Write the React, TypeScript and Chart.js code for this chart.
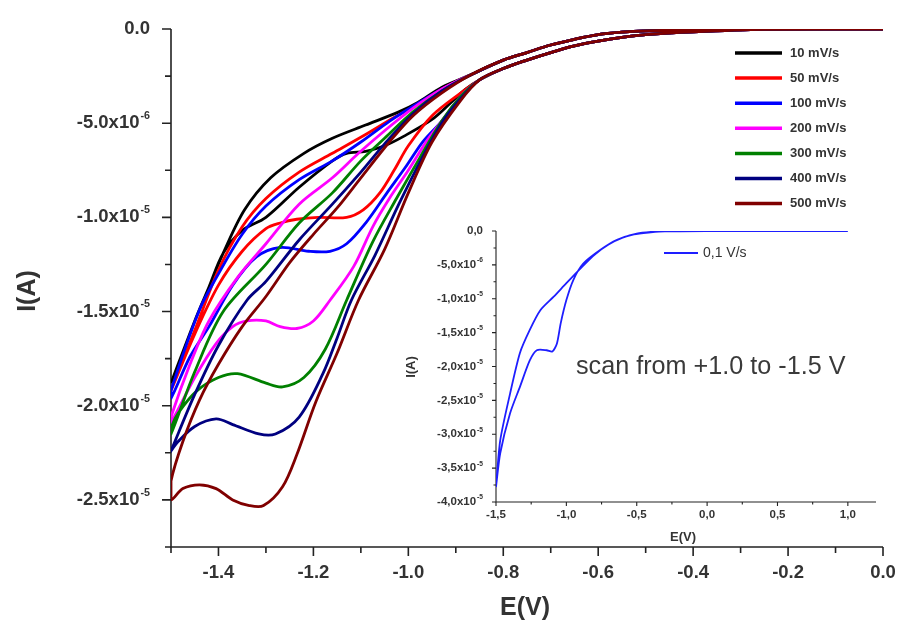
import React, { useEffect, useRef } from 'react';
import { Chart, registerables } from 'chart.js';

Chart.register(...registerables);

type P = [number, number];

// ---------- MAIN CHART DATA (E in V, I in units of 1e-6 A) ----------
const scanRates = ['10 mV/s', '50 mV/s', '100 mV/s', '200 mV/s', '300 mV/s', '400 mV/s', '500 mV/s'];
const seriesColors = ['#000000', '#ff0000', '#0000ff', '#ff00ff', '#008000', '#000080', '#800000'];

// common start of the cathodic sweep (0 V -> -0.85 V) and common end of the return sweep
const tailFwd: P[] = [[0, 0], [-0.25, -0.02], [-0.4, -0.15], [-0.5, -0.3], [-0.55, -0.45], [-0.6, -0.65], [-0.65, -0.9], [-0.7, -1.25], [-0.75, -1.65], [-0.8, -2.1], [-0.85, -2.7]];
const tailRev: P[] = [[-0.87, -2.45], [-0.8, -1.65], [-0.75, -1.25], [-0.7, -0.85], [-0.65, -0.55], [-0.6, -0.3], [-0.55, -0.17], [-0.5, -0.1], [-0.4, -0.04], [-0.25, 0], [0, 0]];

const cv10Fwd: P[] = [[-0.88, -3.2], [-0.91, -3.9], [-0.95, -4.8], [-1.01, -5.7], [-1.05, -6.2], [-1.09, -6.5], [-1.13, -6.6], [-1.16, -7.0], [-1.23, -8.4], [-1.3, -10.0], [-1.35, -10.7], [-1.39, -11.9], [-1.42, -13.7], [-1.45, -15.5], [-1.5, -18.8]];
const cv10Rev: P[] = [[-1.5, -18.8], [-1.45, -15.5], [-1.42, -13.7], [-1.39, -11.9], [-1.345, -9.6], [-1.29, -7.9], [-1.22, -6.6], [-1.16, -5.8], [-1.09, -5.1], [-1.02, -4.4], [-0.98, -3.9], [-0.93, -3.1]];

const cv50Fwd: P[] = [[-0.89, -3.4], [-0.95, -4.6], [-1.0, -6.2], [-1.03, -7.5], [-1.06, -8.7], [-1.095, -9.6], [-1.13, -10.0], [-1.19, -10.0], [-1.235, -10.1], [-1.27, -10.3], [-1.3, -10.6], [-1.35, -11.8], [-1.4, -13.6], [-1.45, -16.2], [-1.5, -19.2]];
const cv50Rev: P[] = [[-1.5, -19.2], [-1.45, -16.0], [-1.4, -12.8], [-1.35, -10.5], [-1.3, -9.0], [-1.23, -7.6], [-1.16, -6.6], [-1.09, -5.6], [-1.03, -4.7], [-0.98, -4.0], [-0.93, -3.2]];

const cv100Fwd: P[] = [[-0.89, -3.6], [-0.93, -4.9], [-0.97, -6.0], [-1.005, -7.3], [-1.045, -8.7], [-1.09, -10.3], [-1.13, -11.4], [-1.165, -11.8], [-1.21, -11.8], [-1.27, -11.6], [-1.32, -12.1], [-1.37, -13.6], [-1.42, -15.8], [-1.46, -17.4], [-1.5, -19.6]];
const cv100Rev: P[] = [[-1.5, -19.2], [-1.44, -14.9], [-1.4, -13.0], [-1.35, -10.9], [-1.3, -9.4], [-1.23, -8.0], [-1.16, -7.0], [-1.1, -6.0], [-1.04, -4.9], [-0.99, -4.1], [-0.93, -3.2]];

const cv200Fwd: P[] = [[-0.89, -3.6], [-0.93, -4.9], [-0.96, -5.9], [-1.0, -7.5], [-1.04, -9.0], [-1.075, -10.5], [-1.115, -12.6], [-1.165, -14.4], [-1.2, -15.5], [-1.235, -15.9], [-1.27, -15.8], [-1.3, -15.5], [-1.34, -15.5], [-1.37, -15.8], [-1.405, -16.7], [-1.45, -18.5], [-1.5, -20.9]];
const cv200Rev: P[] = [[-1.5, -20.6], [-1.46, -17.8], [-1.42, -15.5], [-1.36, -13.2], [-1.3, -11.4], [-1.23, -9.3], [-1.16, -7.9], [-1.105, -6.6], [-1.05, -5.4], [-0.99, -4.2], [-0.93, -3.2]];

const cv300Fwd: P[] = [[-0.89, -3.6], [-0.93, -4.9], [-0.975, -6.8], [-1.025, -9.0], [-1.075, -11.3], [-1.13, -14.4], [-1.175, -17.0], [-1.22, -18.5], [-1.265, -19.0], [-1.3, -18.8], [-1.36, -18.3], [-1.4, -18.5], [-1.445, -19.2], [-1.485, -20.4], [-1.5, -21.2]];
const cv300Rev: P[] = [[-1.5, -21.5], [-1.45, -18.2], [-1.39, -15.0], [-1.3, -12.5], [-1.23, -10.3], [-1.16, -8.7], [-1.1, -7.0], [-1.05, -5.8], [-0.99, -4.4], [-0.93, -3.3]];

const cv400Fwd: P[] = [[-0.89, -3.7], [-0.93, -5.0], [-0.97, -6.8], [-1.02, -9.3], [-1.07, -12.0], [-1.12, -14.4], [-1.15, -16.4], [-1.18, -18.3], [-1.23, -20.6], [-1.28, -21.5], [-1.315, -21.5], [-1.37, -21.0], [-1.405, -20.7], [-1.45, -21.1], [-1.485, -21.9], [-1.5, -22.4]];
const cv400Rev: P[] = [[-1.5, -22.4], [-1.45, -19.4], [-1.4, -16.8], [-1.34, -14.4], [-1.3, -13.4], [-1.23, -11.2], [-1.16, -9.3], [-1.1, -7.6], [-1.05, -6.1], [-0.99, -4.5], [-0.93, -3.3]];

const cv500Fwd: P[] = [[-0.89, -3.8], [-0.95, -6.0], [-1.0, -8.7], [-1.05, -11.7], [-1.105, -14.4], [-1.15, -17.2], [-1.195, -19.8], [-1.235, -22.6], [-1.265, -24.3], [-1.305, -25.3], [-1.335, -25.3], [-1.37, -25.0], [-1.405, -24.4], [-1.44, -24.2], [-1.475, -24.4], [-1.5, -25.0]];
const cv500Rev: P[] = [[-1.5, -24.0], [-1.475, -21.9], [-1.44, -19.7], [-1.4, -17.8], [-1.35, -15.8], [-1.3, -14.2], [-1.25, -12.4], [-1.2, -10.9], [-1.15, -9.5], [-1.1, -7.9], [-1.04, -6.0], [-0.99, -4.6], [-0.93, -3.4]];

const fwdBranches = [cv10Fwd, cv50Fwd, cv100Fwd, cv200Fwd, cv300Fwd, cv400Fwd, cv500Fwd];
const revBranches = [cv10Rev, cv50Rev, cv100Rev, cv200Rev, cv300Rev, cv400Rev, cv500Rev];

// main axes ticks
const mainXMajor = [-1.4, -1.2, -1.0, -0.8, -0.6, -0.4, -0.2, 0.0];
const mainXLabels = ['-1.4', '-1.2', '-1.0', '-0.8', '-0.6', '-0.4', '-0.2', '0.0'];
const mainXMinor = [-1.5, -1.3, -1.1, -0.9, -0.7, -0.5, -0.3, -0.1];
const mainYMajor = [0, -5, -10, -15, -20, -25];
const mainYLabels = ['0.0', '-5.0x10', '-1.0x10', '-1.5x10', '-2.0x10', '-2.5x10'];
const mainYExps = ['', '-6', '-5', '-5', '-5', '-5'];
const mainYMinor = [-2.5, -7.5, -12.5, -17.5, -22.5, -27.5];

// ---------- INSET DATA ----------
const insetLabel = '0,1 V/s';
const insetColor = '#1e1eff';
const insetFwd: P[] = [[1.0, 0], [0.5, 0], [0, 0], [-0.3, -0.05], [-0.4, -0.2], [-0.52, -0.5], [-0.64, -1.3], [-0.76, -2.8], [-0.88, -4.8], [-0.95, -7.2], [-1.0, -10.2], [-1.04, -13.6], [-1.067, -16.6], [-1.1, -17.8], [-1.14, -17.6], [-1.21, -17.6], [-1.26, -19.1], [-1.33, -23.0], [-1.4, -26.9], [-1.47, -32.8], [-1.5, -37.8]];
const insetRev: P[] = [[-1.5, -37.8], [-1.47, -30.9], [-1.4, -24.0], [-1.33, -18.0], [-1.26, -14.6], [-1.185, -11.7], [-1.09, -9.7], [-1.0, -7.7], [-0.88, -5.1], [-0.8, -3.5], [-0.7, -2.0], [-0.6, -1.0], [-0.5, -0.4], [-0.4, -0.15], [-0.3, -0.05], [0, 0], [0.84, 0]];

const insetXMajor = [-1.5, -1.0, -0.5, 0.0, 0.5, 1.0];
const insetXLabels = ['-1,5', '-1,0', '-0,5', '0,0', '0,5', '1,0'];
const insetXMinor = [-1.25, -0.75, -0.25, 0.25, 0.75];
const insetYMajor = [0, -5, -10, -15, -20, -25, -30, -35, -40];
const insetYLabels = ['0,0', '-5,0x10', '-1,0x10', '-1,5x10', '-2,0x10', '-2,5x10', '-3,0x10', '-3,5x10', '-4,0x10'];
const insetYExps = ['', '-6', '-5', '-5', '-5', '-5', '-5', '-5', '-5'];
const insetYMinor = [-2.5, -7.5, -12.5, -17.5, -22.5, -27.5, -32.5, -37.5];

const FONT = '"Liberation Sans", Arial, Helvetica, sans-serif';
const TEXT = '#333333';

function toXY(points: P[]) {
  return points.map(([x, y]) => ({ x, y }));
}

function drawSupLabel(ctx: CanvasRenderingContext2D, base: string, exp: string, xRight: number, yMid: number, size: number) {
  const baseFont = `bold ${size}px ${FONT}`;
  const supSize = size * 0.58;
  const supFont = `bold ${supSize}px ${FONT}`;
  ctx.font = baseFont;
  const wBase = ctx.measureText(base).width;
  ctx.font = supFont;
  const wExp = exp ? ctx.measureText(exp).width + 1 : 0;
  const x0 = xRight - wBase - wExp;
  ctx.textAlign = 'left';
  ctx.textBaseline = 'middle';
  ctx.font = baseFont;
  ctx.fillText(base, x0, yMid);
  if (exp) {
    ctx.font = supFont;
    ctx.fillText(exp, x0 + wBase + 1, yMid - size * 0.38);
  }
}

function makeAxesPlugin(cfg: {
  id: string;
  xMajor: number[]; xLabels: string[]; xMinor: number[];
  yMajor: number[]; yLabels: string[]; yExps: string[]; yMinor: number[];
  majorLen: number; minorLen: number; lineWidth: number;
  fontSize: number; yLabelGap: number; xLabelOffset: number;
}) {
  return {
    id: cfg.id,
    beforeDatasetsDraw(chart: any) {
      const { ctx, chartArea: a, scales } = chart;
      const xs = scales.x;
      const ys = scales.y;
      ctx.save();
      ctx.strokeStyle = '#222222';
      ctx.lineWidth = cfg.lineWidth;
      ctx.beginPath();
      ctx.moveTo(a.left, a.top);
      ctx.lineTo(a.left, a.bottom);
      ctx.lineTo(a.right, a.bottom);
      ctx.stroke();
      ctx.beginPath();
      cfg.yMajor.forEach((v) => {
        const py = ys.getPixelForValue(v);
        ctx.moveTo(a.left, py);
        ctx.lineTo(a.left - cfg.majorLen, py);
      });
      cfg.yMinor.forEach((v) => {
        const py = ys.getPixelForValue(v);
        ctx.moveTo(a.left, py);
        ctx.lineTo(a.left - cfg.minorLen, py);
      });
      cfg.xMajor.forEach((v) => {
        const px = xs.getPixelForValue(v);
        ctx.moveTo(px, a.bottom);
        ctx.lineTo(px, a.bottom + cfg.majorLen);
      });
      cfg.xMinor.forEach((v) => {
        const px = xs.getPixelForValue(v);
        ctx.moveTo(px, a.bottom);
        ctx.lineTo(px, a.bottom + cfg.minorLen);
      });
      ctx.stroke();
      ctx.fillStyle = TEXT;
      cfg.yMajor.forEach((v, i) => {
        drawSupLabel(ctx, cfg.yLabels[i], cfg.yExps[i], a.left - cfg.yLabelGap, ys.getPixelForValue(v), cfg.fontSize);
      });
      ctx.font = `bold ${cfg.fontSize}px ${FONT}`;
      ctx.textAlign = 'center';
      ctx.textBaseline = 'middle';
      cfg.xMajor.forEach((v, i) => {
        ctx.fillText(cfg.xLabels[i], xs.getPixelForValue(v), a.bottom + cfg.xLabelOffset);
      });
      ctx.restore();
    },
  };
}

const mainAxes = makeAxesPlugin({
  id: 'mainAxes',
  xMajor: mainXMajor, xLabels: mainXLabels, xMinor: mainXMinor,
  yMajor: mainYMajor, yLabels: mainYLabels, yExps: mainYExps, yMinor: mainYMinor,
  majorLen: 9, minorLen: 6, lineWidth: 1.6, fontSize: 18.5, yLabelGap: 21, xLabelOffset: 26,
});

const insetAxes = makeAxesPlugin({
  id: 'insetAxes',
  xMajor: insetXMajor, xLabels: insetXLabels, xMinor: insetXMinor,
  yMajor: insetYMajor, yLabels: insetYLabels, yExps: insetYExps, yMinor: insetYMinor,
  majorLen: 4, minorLen: 2.5, lineWidth: 1.1, fontSize: 11.5, yLabelGap: 13, xLabelOffset: 13,
});

const mainDecor = {
  id: 'mainDecor',
  afterDraw(chart: any) {
    const { ctx, chartArea: a } = chart;
    ctx.save();
    ctx.fillStyle = TEXT;
    // axis titles
    ctx.font = `bold 25px ${FONT}`;
    ctx.textAlign = 'center';
    ctx.textBaseline = 'middle';
    ctx.fillText('E(V)', (a.left + a.right) / 2 - 2, 608);
    ctx.save();
    ctx.translate(28, 291);
    ctx.rotate(-Math.PI / 2);
    ctx.fillText('I(A)', 0, 0);
    ctx.restore();
    // legend
    scanRates.forEach((label, i) => {
      const yy = 53 + i * 25.1;
      ctx.strokeStyle = seriesColors[i];
      ctx.lineWidth = 3.5;
      ctx.beginPath();
      ctx.moveTo(735, yy);
      ctx.lineTo(782, yy);
      ctx.stroke();
      ctx.fillStyle = TEXT;
      ctx.font = `bold 13px ${FONT}`;
      ctx.textAlign = 'left';
      ctx.textBaseline = 'middle';
      ctx.fillText(label, 790, yy);
    });
    ctx.restore();
  },
};

const insetDecor = {
  id: 'insetDecor',
  afterDraw(chart: any) {
    const { ctx, chartArea: a } = chart;
    ctx.save();
    ctx.fillStyle = TEXT;
    ctx.font = `bold 13px ${FONT}`;
    ctx.textAlign = 'center';
    ctx.textBaseline = 'middle';
    ctx.fillText('E(V)', (a.left + a.right) / 2 - 3, 537);
    ctx.save();
    ctx.translate(411, 367);
    ctx.rotate(-Math.PI / 2);
    ctx.fillText('I(A)', 0, 0);
    ctx.restore();
    // legend
    ctx.strokeStyle = insetColor;
    ctx.lineWidth = 2;
    ctx.beginPath();
    ctx.moveTo(664, 253);
    ctx.lineTo(698, 253);
    ctx.stroke();
    ctx.fillStyle = TEXT;
    ctx.font = `14px ${FONT}`;
    ctx.textAlign = 'left';
    ctx.fillText(insetLabel, 703, 253);
    // annotation
    ctx.font = `25.2px ${FONT}`;
    ctx.fillStyle = '#3a3a3a';
    ctx.fillText('scan from +1.0 to -1.5 V', 576, 367);
    ctx.restore();
  },
};

export default function App() {
  const mainRef = useRef<HTMLCanvasElement>(null);
  const insetRef = useRef<HTMLCanvasElement>(null);

  useEffect(() => {
    if (!mainRef.current || !insetRef.current) return;
    const mainChart = new Chart(mainRef.current, {
      type: 'scatter',
      data: {
        datasets: scanRates.map((label, i) => ({
          label,
          data: toXY([...tailFwd, ...fwdBranches[i], ...revBranches[i], ...tailRev]),
          showLine: true,
          borderColor: seriesColors[i],
          backgroundColor: seriesColors[i],
          borderWidth: 2.8,
          pointRadius: 0,
          tension: 0.32,
          fill: false,
          order: scanRates.length - i,
        })),
      },
      options: {
        animation: false,
        responsive: false,
        events: [],
        layout: { padding: { left: 171, top: 29, right: 18, bottom: 81 } },
        plugins: { legend: { display: false }, tooltip: { enabled: false } },
        scales: {
          x: { type: 'linear', min: -1.5, max: 0, display: false },
          y: { type: 'linear', min: -27.5, max: 0, display: false },
        },
      },
      plugins: [mainAxes, mainDecor],
    } as any);

    const insetChart = new Chart(insetRef.current, {
      type: 'scatter',
      data: {
        datasets: [
          {
            label: insetLabel,
            data: toXY([...insetFwd, ...insetRev]),
            showLine: true,
            borderColor: insetColor,
            backgroundColor: insetColor,
            borderWidth: 1.8,
            pointRadius: 0,
            tension: 0.25,
            fill: false,
          },
        ],
      },
      options: {
        animation: false,
        responsive: false,
        events: [],
        layout: { padding: { left: 496, top: 231, right: 25, bottom: 126 } },
        plugins: { legend: { display: false }, tooltip: { enabled: false } },
        scales: {
          x: { type: 'linear', min: -1.5, max: 1.2, display: false },
          y: { type: 'linear', min: -40, max: 0, display: false },
        },
      },
      plugins: [insetAxes, insetDecor],
    } as any);

    return () => {
      mainChart.destroy();
      insetChart.destroy();
    };
  }, []);

  return (
    <div style={{ position: 'fixed', left: 0, top: 0, width: 901, height: 628, background: '#ffffff' }}>
      <canvas ref={mainRef} width={901} height={628} style={{ position: 'absolute', left: 0, top: 0, display: 'block' }} />
      <canvas ref={insetRef} width={901} height={628} style={{ position: 'absolute', left: 0, top: 0, display: 'block', pointerEvents: 'none' }} />
    </div>
  );
}
